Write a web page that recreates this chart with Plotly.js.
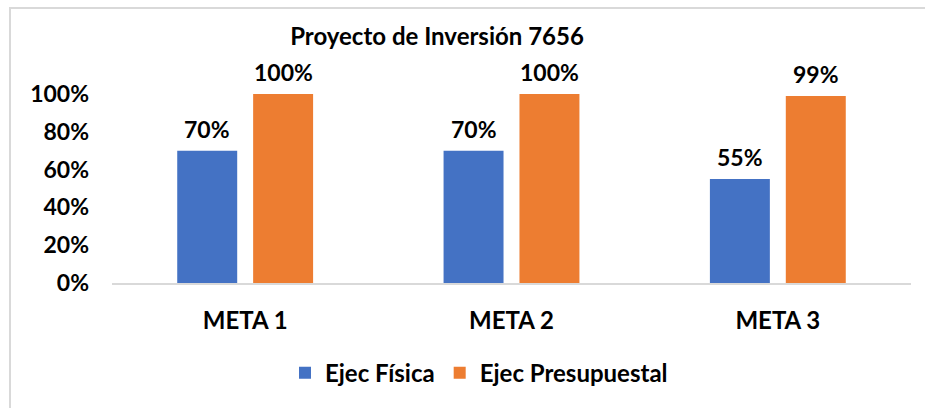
<!DOCTYPE html>
<html>
<head>
<meta charset="utf-8">
<script src="https://cdn.plot.ly/plotly-3.0.1.min.js"></script>
<style>
  html, body { margin: 0; padding: 0; background: #fff; }
  #wrap { position: relative; width: 925px; height: 408px; }
  #chart { width: 925px; height: 408px; }
  #frame { position: absolute; left: 8.5px; top: 6.5px; right: -2px; bottom: -2px;
           border-left: 2px solid #d9d9d9; border-top: 2px solid #d9d9d9; pointer-events: none; }
</style>
</head>
<body>
<div id="wrap">
  <div id="chart"></div>
  <div id="frame"></div>
</div>
<script>
const categories = ["META 1", "META 2", "META 3"];
const ejecFisica = [0.70, 0.70, 0.55];
const ejecPresupuestal = [1.00, 1.00, 0.99];
const seriesNames = ["Ejec Física", "Ejec Presupuestal"];
const tickVals = [0, 0.2, 0.4, 0.6, 0.8, 1.0];
const tickText = ["0%", "20%", "40%", "60%", "80%", "100%"];
const titleText = "Proyecto de Inversión 7656";

const FONT = "Lato, 'Open Sans', sans-serif";
const fz = 24;
const BARGAP = 0.43, GROUPGAP = 0.21;

function pct(v) { return Math.round(v * 100) + "%"; }

const traces = [
  {
    type: "bar", name: seriesNames[0], x: categories, y: ejecFisica,
    marker: { color: "#4472C4" }, hoverinfo: "none"
  },
  {
    type: "bar", name: seriesNames[1], x: categories, y: ejecPresupuestal,
    marker: { color: "#ED7D31" }, hoverinfo: "none"
  }
];

// data labels placed above each bar (category index +/- half a bar slot)
const slot = (1 - BARGAP) / 2;
const series = [ejecFisica, ejecPresupuestal];
const annotations = [];
series.forEach((vals, s) => {
  vals.forEach((v, i) => {
    annotations.push({
      xref: "x", yref: "y", x: i + (s - 0.5) * slot, y: v,
      text: pct(v), showarrow: false, yanchor: "bottom", yshift: 6,
      font: { family: FONT, size: 23, color: "#000", weight: 700 }
    });
  });
});

const layout = {
  width: 925, height: 408,
  paper_bgcolor: "rgba(0,0,0,0)", plot_bgcolor: "rgba(0,0,0,0)",
  margin: { l: 112, r: 14, t: 94, b: 123, pad: 0 },
  font: { family: FONT, size: fz, color: "#000", weight: 700 },
  title: {
    text: "<b>" + titleText + "</b>",
    font: { family: FONT, size: 24, color: "#000", weight: 700 },
    xref: "container", x: 437 / 925, xanchor: "center",
    yref: "container", y: 1 - 37 / 408, yanchor: "middle"
  },
  barmode: "group",
  bargap: BARGAP,
  bargroupgap: GROUPGAP,
  xaxis: {
    type: "category",
    showline: true, linecolor: "#d9d9d9", linewidth: 2,
    showgrid: false, zeroline: false, ticks: "",
    tickfont: { family: FONT, size: fz, color: "#000", weight: 700 },
    ticklabelstandoff: 15
  },
  yaxis: {
    range: [0, 1], tickvals: tickVals, ticktext: tickText,
    showline: false, showgrid: false, zeroline: false, ticks: "",
    tickfont: { family: FONT, size: 23, color: "#000", weight: 700 },
    ticklabelstandoff: 22
  },
  annotations: annotations,
  showlegend: true,
  legend: {
    orientation: "h", x: (479 - 112) / 799, xanchor: "center",
    y: (285 - 376) / 191, yanchor: "middle",
    font: { family: FONT, size: fz, color: "#000", weight: 700 },
    itemwidth: 30, traceorder: "normal"
  }
};

Plotly.newPlot("chart", traces, layout, { displayModeBar: false, staticPlot: true });
</script>
</body>
</html>
